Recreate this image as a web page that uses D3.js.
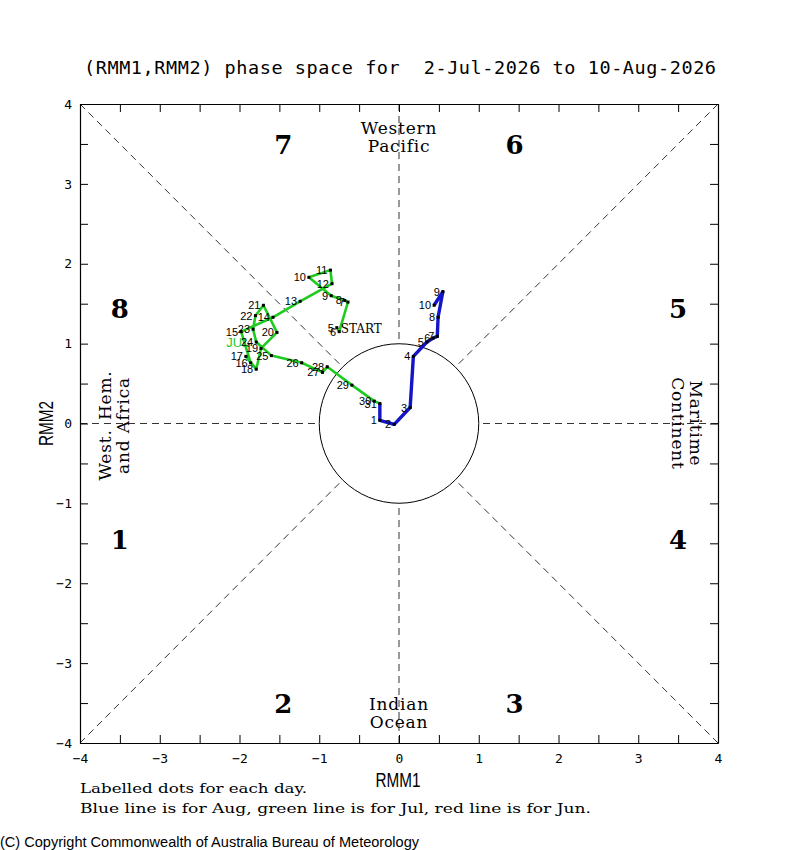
<!DOCTYPE html>
<html>
<head>
<meta charset="utf-8">
<script src="https://cdn.jsdelivr.net/npm/d3@7"></script>
<style>
  body { margin: 0; background: #fff; }
  svg { display: block; }
  text { white-space: pre; }
</style>
</head>
<body>
<div id="chart"></div>
<script>
// July (green) and August (blue) RMM1/RMM2 daily values
const julDays = [5, 6, 7, 8, 9, 10, 11, 12, 13, 14, 15, 16, 17, 18, 19, 20, 21, 22, 23, 24, 25, 26, 27, 28, 29, 30, 31];
const julRmm1 = [-0.78, -0.75, -0.64, -0.68, -0.85, -1.13, -0.86, -0.84, -1.24, -1.58, -1.98, -1.86, -1.92, -1.79, -1.73, -1.53, -1.70, -1.80, -1.83, -1.79, -1.60, -1.22, -0.96, -0.90, -0.59, -0.31, -0.24];
const julRmm2 = [1.20, 1.15, 1.52, 1.54, 1.60, 1.83, 1.92, 1.75, 1.53, 1.33, 1.15, 0.76, 0.84, 0.68, 0.94, 1.14, 1.48, 1.35, 1.18, 1.02, 0.85, 0.76, 0.64, 0.71, 0.48, 0.28, 0.25];

const augDays = [1, 2, 3, 4, 5, 6, 7, 8, 9, 10];
const augRmm1 = [-0.24, -0.06, 0.14, 0.18, 0.35, 0.43, 0.48, 0.49, 0.55, 0.44];
const augRmm2 = [0.04, -0.01, 0.20, 0.84, 1.02, 1.07, 1.09, 1.33, 1.65, 1.48];

const tickValues = d3.range(-4, 4.01, 0.5);
const phaseNames = ["1", "2", "3", "4", "5", "6", "7", "8"];

const W = 800, H = 850;
const svg = d3.select("#chart").append("svg").attr("width", W).attr("height", H);

const x = d3.scaleLinear().domain([-4, 4]).range([80, 718]);
const y = d3.scaleLinear().domain([-4, 4]).range([743, 104]);

const mono = "DejaVu Sans Mono";
const serif = "DejaVu Serif";

// title
svg.append("text")
  .attr("x", 84).attr("y", 74)
  .attr("font-family", mono).attr("font-size", 18.5)
  .attr("textLength", 632).attr("lengthAdjust", "spacing")
  .text("(RMM1,RMM2) phase space for  2-Jul-2026 to 10-Aug-2026");

// dashed guide lines: outside the unit circle
const guides = svg.append("g").attr("stroke", "#000").attr("stroke-width", 0.8).attr("stroke-dasharray", "7,5").attr("fill", "none");
const r = Math.SQRT1_2;
[[-4, 4, -r, r], [4, 4, r, r], [-4, -4, -r, -r], [4, -4, r, -r],
 [0, 4, 0, 1], [0, -4, 0, -1], [-4, 0, -1, 0], [4, 0, 1, 0]].forEach(([x1, y1, x2, y2]) => {
  guides.append("line").attr("x1", x(x1)).attr("y1", y(y1)).attr("x2", x(x2)).attr("y2", y(y2));
});

svg.append("circle")
  .attr("cx", x(0)).attr("cy", y(0)).attr("r", x(1) - x(0))
  .attr("fill", "none").attr("stroke", "#000").attr("stroke-width", 1);

// axes, ticks pointing inward every 0.5, labels on integers
const fmt = (d) => (Number.isInteger(d) ? d3.format("d")(d) : "");
function styleAxis(g) {
  g.select(".domain").attr("stroke", "#000").attr("stroke-width", 1.2);
  g.selectAll(".tick line").attr("stroke", "#000").attr("stroke-width", 1);
  g.selectAll(".tick text").attr("font-family", mono).attr("font-size", 13).attr("fill", "#000");
}
svg.append("g").attr("transform", `translate(0,${y(-4)})`)
  .call(d3.axisBottom(x).tickValues(tickValues).tickFormat(fmt).tickSize(-8).tickSizeOuter(0).tickPadding(11))
  .call(styleAxis);
svg.append("g").attr("transform", `translate(${x(-4)},0)`)
  .call(d3.axisLeft(y).tickValues(tickValues).tickFormat(fmt).tickSize(-8).tickSizeOuter(0).tickPadding(8))
  .call(styleAxis);
svg.append("g").attr("transform", `translate(0,${y(4)})`)
  .call(d3.axisTop(x).tickValues(tickValues).tickFormat("").tickSize(-8).tickSizeOuter(0))
  .call(styleAxis);
svg.append("g").attr("transform", `translate(${x(4)},0)`)
  .call(d3.axisRight(y).tickValues(tickValues).tickFormat("").tickSize(-8).tickSizeOuter(0))
  .call(styleAxis);

// axis titles
svg.append("text").attr("x", 398).attr("y", 787).attr("text-anchor", "middle")
  .attr("font-family", "Liberation Sans").attr("font-size", 21)
  .attr("textLength", 45).attr("lengthAdjust", "spacingAndGlyphs").text("RMM1");
svg.append("text").attr("transform", `translate(53,${y(0)}) rotate(-90)`).attr("text-anchor", "middle")
  .attr("font-family", "Liberation Sans").attr("font-size", 21)
  .attr("textLength", 45).attr("lengthAdjust", "spacingAndGlyphs").text("RMM2");

// phase numbers
const phasePos = [[-3.5, -1.45], [-1.45, -3.5], [1.45, -3.5], [3.5, -1.45], [3.5, 1.45], [1.45, 3.5], [-1.45, 3.5], [-3.5, 1.45]];
svg.append("g").selectAll("text").data(phaseNames).enter().append("text")
  .attr("x", (d, i) => x(phasePos[i][0]))
  .attr("y", (d, i) => y(phasePos[i][1]) + 10)
  .attr("text-anchor", "middle")
  .attr("font-family", serif).attr("font-weight", "bold").attr("font-size", 26)
  .text((d) => d);

// region names
function region(lines, tx, ty, rot) {
  const g = svg.append("g").attr("transform", `translate(${tx},${ty}) rotate(${rot})`);
  lines.forEach((s, i) => {
    g.append("text").attr("x", 0).attr("y", i * 18).attr("text-anchor", "middle")
      .attr("font-family", serif).attr("font-size", 17).attr("letter-spacing", 0.8)
      .text(s);
  });
}
region(["Western", "Pacific"], x(0), 134, 0);
region(["Indian", "Ocean"], x(0), 710, 0);
region(["West.\u2002Hem.", "and Africa"], 111, y(0) + 2, -90);
region(["Maritime", "Continent"], 690, y(0), 90);

// trajectories
const jul = julDays.map((d, i) => ({ day: d, x: julRmm1[i], y: julRmm2[i] }));
const aug = augDays.map((d, i) => ({ day: d, x: augRmm1[i], y: augRmm2[i] }));
const line = d3.line().x((d) => x(d.x)).y((d) => y(d.y));

svg.append("path").datum(jul).attr("d", line)
  .attr("fill", "none").attr("stroke", "#1ecb1e").attr("stroke-width", 2.6).attr("stroke-linejoin", "round");
svg.append("path").datum([jul[jul.length - 1]].concat(aug)).attr("d", line)
  .attr("fill", "none").attr("stroke", "#1414c8").attr("stroke-width", 3.4).attr("stroke-linejoin", "round");

svg.append("text").attr("x", x(-2.02)).attr("y", y(0.96)).attr("text-anchor", "middle")
  .attr("font-family", "Liberation Sans").attr("font-size", 13).attr("fill", "#1ecb1e").text("JUL");

const all = jul.concat(aug);
svg.append("g").selectAll("rect").data(all).enter().append("rect")
  .attr("x", (d) => x(d.x) - 1.5).attr("y", (d) => y(d.y) - 1.5)
  .attr("width", 3).attr("height", 3).attr("fill", "#000");

svg.append("g").selectAll("text").data(all).enter().append("text")
  .attr("x", (d) => x(d.x) - 3).attr("y", (d) => y(d.y) + 4)
  .attr("text-anchor", "end")
  .attr("font-family", "Liberation Sans").attr("font-size", 11)
  .text((d) => d.day);

svg.append("text").attr("x", x(jul[0].x) + 4).attr("y", y(jul[0].y) + 5)
  .attr("font-family", serif).attr("font-size", 12).text("START");

// notes
svg.append("text").attr("x", 80).attr("y", 793).attr("font-family", serif).attr("font-size", 13.5)
  .attr("textLength", 227).attr("lengthAdjust", "spacingAndGlyphs").text("Labelled dots for each day.");
svg.append("text").attr("x", 80).attr("y", 813).attr("font-family", serif).attr("font-size", 13.5)
  .attr("textLength", 511).attr("lengthAdjust", "spacingAndGlyphs")
  .text("Blue line is for Aug, green line is for Jul, red line is for Jun.");
svg.append("text").attr("x", 0).attr("y", 847).attr("font-family", "Liberation Sans").attr("font-size", 14)
  .attr("textLength", 419).attr("lengthAdjust", "spacingAndGlyphs")
  .text("(C) Copyright Commonwealth of Australia Bureau of Meteorology");
</script>
</body>
</html>
